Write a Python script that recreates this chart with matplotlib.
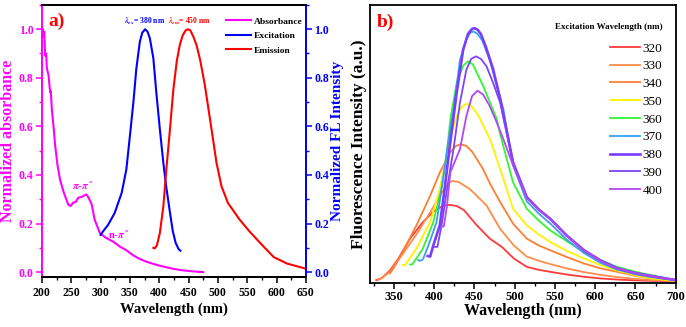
import numpy as np
import matplotlib
matplotlib.use('Agg')
from matplotlib import pyplot as plt
from matplotlib.ticker import MultipleLocator

plt.rcParams['font.family'] = ['Liberation Serif', 'DejaVu Serif']
plt.rcParams['font.weight'] = 'bold'
plt.rcParams['mathtext.fontset'] = 'stix'

# ---- panel a data ----
abs_x = [200, 201.7, 203, 204, 205.7, 207.4, 208.5, 211.4, 214.2, 215.3, 217, 219.9, 222.7, 226.7,
         231, 237, 245, 249, 253, 258, 262, 268, 276, 280, 285, 290, 299, 310, 322, 333, 344,
         355, 366, 378, 395, 412, 425, 441, 458, 475]
abs_y = [0.96, 1.0, 0.97, 0.99, 0.89, 0.9, 0.84, 0.81, 0.74, 0.745, 0.67, 0.6, 0.52, 0.44,
         0.38, 0.33, 0.278, 0.272, 0.285, 0.29, 0.306, 0.31, 0.32, 0.305, 0.278, 0.216, 0.16, 0.14, 0.125, 0.105, 0.09,
         0.07, 0.055, 0.043, 0.03, 0.02, 0.013, 0.007, 0.003, 0.0]

ex_x = [300, 305, 313, 324, 336, 344, 350, 356, 361, 367, 371, 376, 380, 384, 390, 395, 401, 407,
        412, 418, 423, 428, 433, 436]
ex_y = [0.153, 0.17, 0.195, 0.243, 0.326, 0.423, 0.56, 0.70, 0.838, 0.949, 0.985, 1.0, 0.99, 0.963,
        0.88, 0.74, 0.59, 0.45, 0.35, 0.25, 0.17, 0.12, 0.095, 0.088]

em_x = [390, 392.5, 396, 401, 407, 412, 418, 424, 430, 435, 440, 445, 449, 453, 458, 463.5, 470,
        477.7, 489, 497.6, 506, 517, 537, 554, 572, 595, 618, 650]
em_y = [0.10, 0.098, 0.11, 0.16, 0.27, 0.42, 0.58, 0.75, 0.87, 0.935, 0.975, 0.995, 1.0, 0.995,
        0.97, 0.935, 0.87, 0.77, 0.59, 0.45, 0.354, 0.285, 0.216, 0.167, 0.12, 0.062, 0.035, 0.014]

# ---- panel b data ----
exc_labels = ['320', '330', '340', '350', '360', '370', '380', '390', '400']
exc_colors = ['#FF3A3A', '#FF8C4A', '#FF7F32', '#FFF200', '#33F533', '#3C9EF0', '#7A3CFF', '#7D45F5', '#B347F5']
exc_widths = [1.3, 1.3, 1.3, 1.3, 1.3, 1.3, 1.9, 1.3, 1.3]

fl_x = [
    [328, 335, 345, 355, 370, 386, 400, 410, 419, 428, 437, 453, 469, 484, 499, 515, 530, 544, 565, 586, 606, 627, 650, 675, 700],
    [330, 335, 345, 361, 378, 395, 407, 415, 422, 430, 444, 465, 482, 499, 515, 530, 544, 565, 586, 606, 627, 650, 669, 700],
    [345, 350, 361, 378, 395, 407, 420, 427, 433, 440, 447, 460, 470, 482, 498, 515, 530, 544, 565, 586, 606, 627, 650, 669, 700],
    [361, 364, 378, 395, 407, 413, 420, 428, 434, 440, 446, 455, 470, 482, 498, 515, 530, 544, 565, 586, 606, 627, 650, 669, 700],
    [370, 373, 386, 399, 409, 415, 420, 428, 436, 442, 448, 461, 478, 482, 498, 515, 530, 544, 565, 586, 606, 627, 650, 669, 700],
    [380, 383, 386, 393, 403, 411, 416, 424, 432, 440, 445, 449, 454, 460, 469, 486, 498, 515, 530, 544, 565, 586, 606, 627, 650, 669, 700],
    [392, 395, 399, 407, 413, 420, 428, 436, 442, 447, 450, 454, 458, 464, 473, 482, 498, 515, 530, 544, 565, 586, 606, 627, 650, 669, 700],
    [401, 404, 409, 416, 424, 432, 440, 446, 452, 458, 465, 473, 482, 498, 515, 530, 544, 565, 586, 606, 627, 650, 669, 700],
    [409, 412, 416, 420, 426, 432, 440, 447, 454, 461, 469, 477, 486, 498, 515, 530, 544, 565, 586, 606, 627, 650, 669, 700],
]
fl_y = [
    [0.005, 0.012, 0.04, 0.08, 0.155, 0.215, 0.255, 0.272, 0.277, 0.273, 0.258, 0.203, 0.155, 0.125, 0.083, 0.053, 0.042, 0.035, 0.025, 0.017, 0.011, 0.007, 0.004, 0.002, 0.001],
    [0.005, 0.012, 0.035, 0.10, 0.17, 0.25, 0.31, 0.345, 0.364, 0.36, 0.335, 0.275, 0.19, 0.13, 0.09, 0.075, 0.063, 0.047, 0.034, 0.024, 0.016, 0.009, 0.005, 0.001],
    [0.029, 0.05, 0.107, 0.203, 0.31, 0.394, 0.467, 0.49, 0.496, 0.49, 0.47, 0.41, 0.35, 0.287, 0.209, 0.155, 0.13, 0.113, 0.088, 0.065, 0.048, 0.035, 0.02, 0.011, 0.002],
    [0.059, 0.06, 0.119, 0.215, 0.335, 0.42, 0.52, 0.598, 0.63, 0.643, 0.635, 0.6, 0.51, 0.406, 0.263, 0.203, 0.17, 0.143, 0.11, 0.083, 0.06, 0.04, 0.022, 0.011, 0.002],
    [0.061, 0.062, 0.119, 0.215, 0.335, 0.442, 0.586, 0.718, 0.78, 0.796, 0.785, 0.706, 0.586, 0.532, 0.358, 0.263, 0.22, 0.185, 0.145, 0.107, 0.078, 0.053, 0.035, 0.023, 0.005],
    [0.077, 0.075, 0.08, 0.131, 0.215, 0.37, 0.478, 0.622, 0.80, 0.875, 0.9, 0.904, 0.895, 0.87, 0.80, 0.622, 0.42, 0.29, 0.245, 0.21, 0.15, 0.103, 0.068, 0.043, 0.026, 0.016, 0.004],
    [0.092, 0.09, 0.131, 0.203, 0.335, 0.503, 0.683, 0.838, 0.895, 0.913, 0.916, 0.91, 0.895, 0.85, 0.77, 0.66, 0.43, 0.305, 0.26, 0.227, 0.165, 0.113, 0.077, 0.048, 0.03, 0.02, 0.005],
    [0.125, 0.125, 0.2, 0.335, 0.478, 0.646, 0.766, 0.805, 0.814, 0.805, 0.778, 0.72, 0.646, 0.43, 0.305, 0.26, 0.227, 0.165, 0.113, 0.077, 0.048, 0.03, 0.02, 0.005],
    [0.197, 0.2, 0.275, 0.394, 0.436, 0.478, 0.598, 0.67, 0.69, 0.675, 0.634, 0.58, 0.514, 0.42, 0.303, 0.258, 0.225, 0.163, 0.112, 0.076, 0.047, 0.03, 0.019, 0.005],
]

MAG = '#FF00FF'
BLU = '#0000FF'
RED = '#FF0000'

fig = plt.figure(figsize=(6.86, 3.27), dpi=100)

# ---------------- panel a ----------------
ax = fig.add_axes([0.061, 0.153, 0.385, 0.832])
ax2 = ax.twinx()
la, = ax.plot(abs_x, abs_y, color=MAG, lw=1.5, label='Absorbance')
lb, = ax2.plot(ex_x, ex_y, color=BLU, lw=1.5, label='Excitation')
lc, = ax2.plot(em_x, em_y, color=RED, lw=1.5, label='Emission')

for a in (ax, ax2):
    a.set_xlim(200, 650)
    a.set_ylim(-0.02, 1.1)
    for s in a.spines.values():
        s.set_linewidth(1.3)
ax.spines['left'].set_color(MAG)
ax2.spines['left'].set_color(MAG)
ax2.spines['right'].set_color(BLU)
ax.spines['right'].set_color(BLU)

ax.xaxis.set_major_locator(MultipleLocator(50))
ax.xaxis.set_minor_locator(MultipleLocator(25))
ax.yaxis.set_major_locator(MultipleLocator(0.2))
ax.yaxis.set_minor_locator(MultipleLocator(0.1))
ax2.yaxis.set_major_locator(MultipleLocator(0.2))
ax2.yaxis.set_minor_locator(MultipleLocator(0.1))
ax.tick_params(axis='x', which='major', direction='out', length=4, width=1.1, labelsize=8.5, pad=3)
ax.tick_params(axis='x', which='minor', direction='out', length=2, width=1)
ax.tick_params(axis='y', which='major', direction='out', length=4, width=1.1, colors=MAG, labelsize=8.5, pad=2)
ax.tick_params(axis='y', which='minor', direction='out', length=2, width=1, colors=MAG)
ax2.tick_params(axis='y', which='major', direction='out', length=4, width=1.1, colors=BLU, labelsize=8.5, pad=2)
ax2.tick_params(axis='y', which='minor', direction='out', length=2, width=1, colors=BLU)
for t in ax.get_xticklabels() + ax.get_yticklabels() + ax2.get_yticklabels():
    t.set_fontweight('bold')

ax.set_xlabel('Wavelength (nm)', fontsize=10.5, fontweight='bold', labelpad=3)
ax.set_ylabel('Normalized absorbance', fontsize=11.5, fontweight='bold', color=MAG, labelpad=2)
ax2.set_ylabel('Normalized FL Intensity', fontsize=11, fontweight='bold', color=BLU, labelpad=1)

ax.text(0.023, 0.97, 'a)', transform=ax.transAxes, color=RED, fontsize=14, fontweight='bold', va='top')
ax.text(271, 0.355, r'$\pi$-$\pi^*$', color=MAG, fontsize=7.5, ha='center', va='center')
ax.text(331, 0.155, r'n-$\pi^*$', color=MAG, fontsize=7.5, ha='center', va='center')
ax2.text(376, 1.032, r'$\lambda_{ex}$= 380 nm', color=BLU, fontsize=5.5, fontweight='bold', ha='center', va='center')
ax2.text(452, 1.032, r'$\lambda_{em}$= 450 nm', color=RED, fontsize=5.5, fontweight='bold', ha='center', va='center')

leg = ax2.legend(handles=[la, lb, lc], loc='upper left', bbox_to_anchor=(0.69, 0.962), frameon=False,
                 prop={'size': 6.8, 'weight': 'bold'}, handlelength=2.6, handletextpad=0.35,
                 labelspacing=0.62, borderpad=0.2, borderaxespad=0)

# ---------------- panel b ----------------
bx = fig.add_axes([0.539, 0.135, 0.446, 0.850])
lines = []
for xs, ys, c, w, lab in zip(fl_x, fl_y, exc_colors, exc_widths, exc_labels):
    l, = bx.plot(xs, ys, color=c, lw=w, label=lab)
    lines.append(l)
bx.set_xlim(320, 700)
bx.set_ylim(-0.005, 1.0)
bx.set_yticks([])
bx.xaxis.set_major_locator(MultipleLocator(50))
bx.xaxis.set_minor_locator(MultipleLocator(25))
bx.tick_params(axis='x', which='major', direction='out', length=4, width=1.1, labelsize=9, pad=2)
bx.tick_params(axis='x', which='minor', direction='out', length=2, width=1)
for t in bx.get_xticklabels():
    t.set_fontweight('bold')
for s in bx.spines.values():
    s.set_linewidth(1.3)
bx.set_xlabel('Wavelength (nm)', fontsize=11.5, fontweight='bold', labelpad=0)
bx.set_ylabel('Fluorescence Intensity (a.u.)', fontsize=12.5, fontweight='bold', labelpad=2)
bx.text(0.023, 0.968, 'b)', transform=bx.transAxes, color=RED, fontsize=14, fontweight='bold', va='top')
bx.text(0.781, 0.921, 'Excitation Wavelength (nm)', transform=bx.transAxes, fontsize=6.5,
        fontweight='bold', ha='center', va='center')
bx.legend(handles=lines, loc='upper left', bbox_to_anchor=(0.775, 0.875), frameon=False,
          prop={'size': 9.5, 'weight': 'normal'}, handlelength=2.3, handletextpad=0.2,
          labelspacing=0.42, borderpad=0.2, borderaxespad=0)

fig.savefig('out.png', dpi=100)
